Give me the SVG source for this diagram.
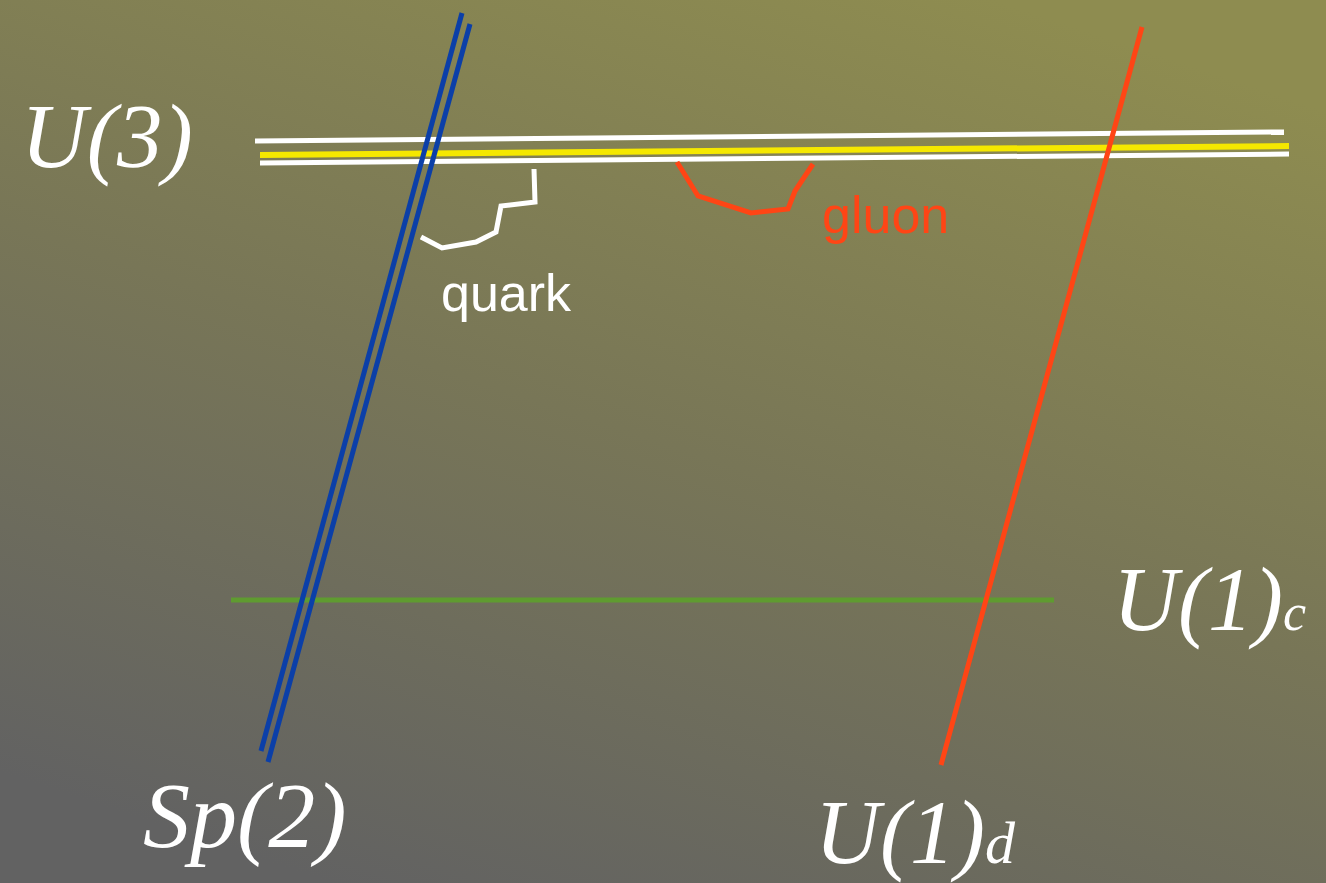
<svg xmlns="http://www.w3.org/2000/svg" width="1326" height="883" viewBox="0 0 1326 883">
<defs>
<linearGradient id="bg" x1="0.75" y1="0" x2="0.25" y2="1">
<stop offset="0" stop-color="#8e8c50"/>
<stop offset="0.5" stop-color="#787657"/>
<stop offset="1" stop-color="#626262"/>
</linearGradient>
</defs>
<style>
.w{stroke:#ffffff;stroke-width:5;fill:none}
.y{stroke:#f5e800;stroke-width:6;fill:none}
.b{stroke:#0b3fa8;stroke-width:5;fill:none}
.r{stroke:#ff4515;stroke-width:5;fill:none}
.g{stroke:#5f9b30;stroke-width:5;fill:none}
.lab{font-family:"Liberation Serif","Times New Roman",serif;font-style:italic;fill:#ffffff}
.sans{font-family:"Liberation Sans",Arial,sans-serif}
</style>
<rect width="1326" height="883" fill="url(#bg)"/>
<g id="connectors">
<g id="U3-brane">
<line class="w" x1="255" y1="141" x2="1284" y2="132"/>
<line class="y" x1="260" y1="155" x2="1289" y2="146"/>
<line class="w" x1="260" y1="163" x2="1289" y2="154"/>
</g>
<g id="U1c-brane"><line class="g" x1="231" y1="600" x2="1054" y2="600"/></g>
<g id="Sp2-brane">
<line class="b" x1="462" y1="13" x2="261" y2="751"/>
<line class="b" x1="470" y1="24" x2="268" y2="762"/>
</g>
<g id="U1d-brane"><line class="r" x1="1142" y1="27" x2="941" y2="765"/></g>
<g id="quark-string"><polyline class="w" points="421,237 442,248 476,242 496,232 501,206 535,202 534,169"/></g>
<g id="gluon-string"><polyline class="r" points="677,162 698,196 751,213 788,209 795,191 813,164"/></g>
</g>
<g id="label-U3"><text class="lab" x="21" y="167" font-size="91">U(3)</text></g>
<g id="label-U1c"><text class="lab" x="1113" y="630" font-size="90">U(1)<tspan font-size="52">c</tspan></text></g>
<g id="label-Sp2"><text class="lab" x="143" y="847" font-size="94">Sp(2)</text></g>
<g id="label-U1d"><text class="lab" x="815" y="863" font-size="90">U(1)<tspan font-size="60">d</tspan></text></g>
<g id="label-quark"><text class="sans" x="441" y="311" font-size="52" fill="#ffffff">quark</text></g>
<g id="label-gluon"><text class="sans" x="822" y="233" font-size="52" fill="#ff4515">gluon</text></g>
</svg>
